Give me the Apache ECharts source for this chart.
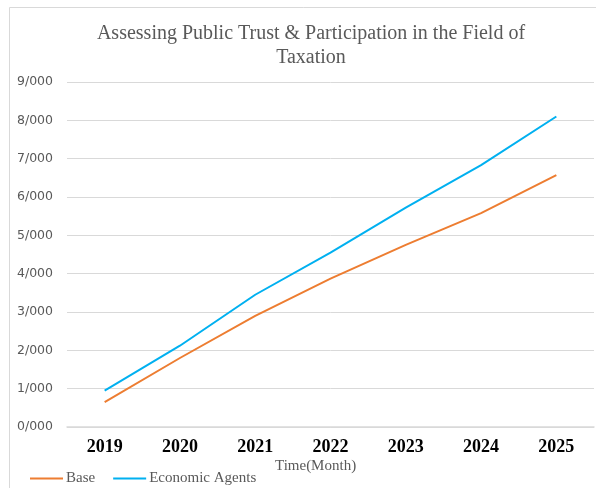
<!DOCTYPE html>
<html>
<head>
<meta charset="utf-8">
<script src="https://cdn.jsdelivr.net/npm/echarts@6/dist/echarts.min.js"></script>
<style>
  html, body { margin: 0; padding: 0; background: #fff; }
  #chart { width: 596px; height: 488px; }
</style>
</head>
<body>
<div id="chart"></div>
<script>
// Years on the category axis
const years = ['2019', '2020', '2021', '2022', '2023', '2024', '2025'];
// Series values (thousands)
const baseValues = [0.65, 1.8, 2.9, 3.87, 4.75, 5.58, 6.57];
const agentValues = [0.95, 2.12, 3.45, 4.55, 5.72, 6.83, 8.1];
const seriesNames = ['Base', 'Economic Agents'];
const titleText = 'Assessing Public Trust & Participation in the Field of\nTaxation';
const axisTitle = 'Time(Month)';

const chart = echarts.init(document.getElementById('chart'), null, { renderer: 'canvas' });

chart.setOption({
  animation: false,
  backgroundColor: '#ffffff',
  title: {
    text: titleText,
    left: 306,
    top: 17,
    textAlign: 'center',
    textStyle: {
      fontFamily: 'Liberation Serif',
      fontWeight: 'normal',
      fontSize: 20,
      lineHeight: 24,
      color: '#595959'
    }
  },
  graphic: [
    {
      type: 'rect',
      silent: true,
      shape: { x: 9.5, y: 7.5, width: 620, height: 520 },
      style: { fill: 'none', stroke: '#d9d9d9', lineWidth: 1 },
      z: -1
    },
    {
      type: 'text',
      left: 275,
      top: 459,
      style: {
        text: axisTitle,
        font: '15px "Liberation Serif"',
        fill: '#595959'
      }
    }
  ],
  legend: {
    data: seriesNames,
    left: 30,
    top: 471,
    padding: 0,
    icon: 'rect',
    itemWidth: 33,
    itemHeight: 2,
    itemGap: 18,
    textStyle: {
      fontFamily: 'Liberation Serif',
      fontSize: 15,
      color: '#595959',
      padding: [0, 0, 0, -2]
    }
  },
  grid: {
    left: 67,
    right: 2,
    top: 82,
    bottom: 61
  },
  xAxis: {
    type: 'category',
    data: years,
    boundaryGap: true,
    axisLine: { show: true, lineStyle: { color: '#d9d9d9', width: 1.5 } },
    axisTick: { show: false },
    axisLabel: {
      margin: 11,
      fontFamily: 'Liberation Serif',
      fontWeight: 'bold',
      fontSize: 18,
      color: '#000000'
    }
  },
  yAxis: {
    type: 'value',
    min: 0,
    max: 9,
    interval: 1,
    axisLine: { show: false },
    axisTick: { show: false },
    splitLine: { lineStyle: { color: '#d9d9d9', width: 1 } },
    axisLabel: {
      margin: 14,
      fontFamily: 'DejaVu Sans',
      fontSize: 12.5,
      color: '#595959',
      formatter: v => v.toFixed(3).replace('.', '/')
    }
  },
  series: [
    {
      name: seriesNames[0],
      type: 'line',
      data: baseValues,
      symbol: 'none',
      lineStyle: { color: '#ED7D31', width: 2 },
      itemStyle: { color: '#ED7D31' }
    },
    {
      name: seriesNames[1],
      type: 'line',
      data: agentValues,
      symbol: 'none',
      lineStyle: { color: '#00B0F0', width: 2 },
      itemStyle: { color: '#00B0F0' }
    }
  ]
});
</script>
</body>
</html>
